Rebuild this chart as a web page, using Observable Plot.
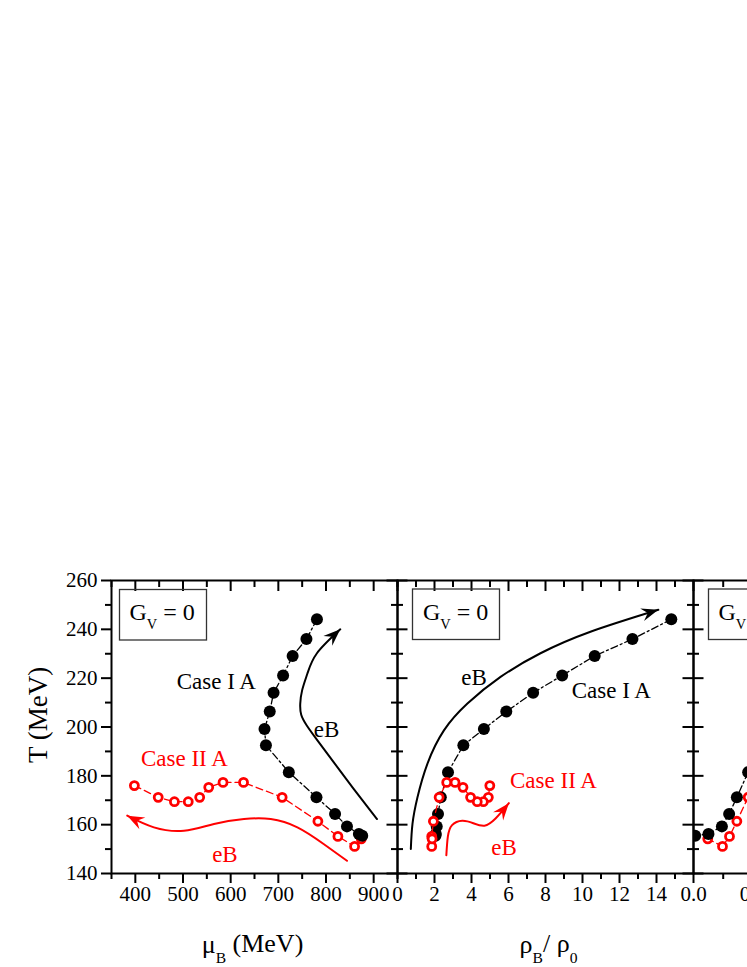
<!DOCTYPE html>
<html>
<head>
<meta charset="utf-8">
<script src="https://cdn.jsdelivr.net/npm/d3@7"></script>
<script src="https://cdn.jsdelivr.net/npm/@observablehq/plot@0.6"></script>
<style>
  html, body { margin: 0; padding: 0; background: #fff; overflow: hidden; }
  #fig { position: relative; width: 747px; height: 967px; overflow: hidden; background: #fff; }
  #fig svg { position: absolute; overflow: visible; background: none; }
</style>
</head>
<body>
<div id="fig"></div>
<script>
// ---------------- data ----------------
// Case I A (black filled dots)
const T_caseI   = [244.1, 236.0, 229.1, 221.1, 214.0, 206.3, 199.2, 192.5, 181.5, 171.2, 164.4, 159.3, 156.2, 155.5];
const muB_caseI = [781, 759, 730, 710, 690, 682, 671, 674, 722, 780, 819, 844, 869, 876];
const rho_caseI = [14.8, 12.7, 10.66, 8.9, 7.33, 5.88, 4.67, 3.56, 2.73, 2.34, 2.19, 2.12, 2.07, 2.05];
// Case II A (red open circles)
const T_caseII   = [176.0, 171.2, 169.4, 169.4, 171.2, 175.3, 177.3, 177.3, 171.2, 161.4, 155.2, 151.1, 154.2];
const muB_caseII = [398, 448, 482, 511, 535, 554, 584, 627, 708, 783, 825, 860, 874];
const rho_caseII = [4.99, 4.91, 4.64, 4.31, 3.95, 3.54, 3.11, 2.66, 2.25, 1.94, 1.85, 1.85, 1.87];
// third panel (only the part that is visible)
const T_caseI_p3  = [181.5, 171.2, 164.4, 159.3, 156.2, 155.5];
const x_caseI_p3  = [0.46, 0.365, 0.30, 0.239, 0.126, 0.014];
const T_caseII_p3 = [171.2, 161.4, 155.2, 151.1, 154.2];
const x_caseII_p3 = [0.46, 0.365, 0.303, 0.244, 0.12];

// eB arrows (annotation curves), start -> tip
const eB1_I_mu  = [907, 858, 816, 782, 760, 748, 746, 750, 761, 781, 830];
const eB1_I_T   = [162.3, 174.7, 185.6, 194.5, 200.5, 205.0, 209.6, 215.1, 221.9, 230.2, 240.0];
const eB1_II_mu = [844, 795, 740, 684, 628, 565, 502, 439, 383];
const eB1_II_T  = [145.2, 152.1, 158.9, 162.3, 162.3, 160.3, 157.5, 158.9, 163.7];
const eB2_I_rho  = [0.72, 0.81, 1.08, 1.62, 2.51, 3.78, 5.57, 7.73, 10.43, 14.1];
const eB2_I_T    = [150.0, 160.3, 171.2, 185.0, 198.6, 209.6, 220.5, 230.2, 239.0, 248.0];
const eB2_II_rho = [2.64, 2.72, 2.95, 3.5, 4.1, 4.7, 5.3, 6.02];
const eB2_II_T   = [147.5, 155.0, 159.8, 161.6, 160.6, 159.6, 162.5, 168.8];

// text annotations
const notes1_text   = ["Case I A", "eB", "Case II A", "eB"];
const notes1_series = ["I", "I", "II", "II"];
const notes1_mu     = [570, 801, 503, 588];
const notes1_T      = [218.4, 199, 187.1, 147.7];
const notes2_text   = ["eB", "Case I A", "Case II A", "eB"];
const notes2_series = ["I", "I", "II", "II"];
const notes2_rho    = [4.14, 11.56, 8.43, 5.76];
const notes2_T      = [220.4, 215, 178, 150.7];

// ticks and labels
const yTicks   = [140, 160, 180, 200, 220, 240, 260];
const yMinor   = [150, 170, 190, 210, 230, 250];
const muTicks  = [400, 500, 600, 700, 800, 900];
const muMinor  = [350, 450, 550, 650, 750, 850, 950];
const rhoTicks = [0, 2, 4, 6, 8, 10, 12, 14];
const rhoMinor = [1, 3, 5, 7, 9, 11, 13, 15];
const p3Ticks  = [0, 0.5, 1.0, 1.5, 2.0];
const p3Minor  = [0.25, 0.75, 1.25, 1.75, 2.25];
const gvLabels = ["G_{V} = 0", "G_{V} = 0", "G_{V}"];
const xTitles  = ["μ_{B} (MeV)", "ρ_{B}/ ρ_{0}"];
const yTitle   = "T (MeV)";

// ---------------- drawing ----------------
const FONT = "'Liberation Serif','Times New Roman',Times,serif";
const RED = "#ff0000";
const BLACK = "#000000";
const colorOf = {I: BLACK, II: RED};
const FRAME_TOP = 580, FRAME_BOTTOM = 873;
const FRAME_H = FRAME_BOTTOM - FRAME_TOP;
const MT = 10, MB = 967 - FRAME_BOTTOM;
const H = MT + FRAME_H + MB;
const blank = () => "";

function stealth(color) {
  const m = d3.select(document.createElementNS("http://www.w3.org/2000/svg", "marker"))
    .attr("viewBox", "-17 -8 18 16")
    .attr("markerWidth", 18).attr("markerHeight", 16)
    .attr("markerUnits", "userSpaceOnUse")
    .attr("refX", 0).attr("refY", 0)
    .attr("orient", "auto")
    .attr("overflow", "visible");
  m.append("path").attr("d", "M0,0L-17,-6.5L-11,0L-17,6.5Z").attr("fill", color).attr("stroke", "none");
  return m.node();
}

function axes(xTicks, xMinor, xFormat, first) {
  const c = {color: BLACK, strokeWidth: 2, label: null};
  const m = [
    Plot.axisX({...c, anchor: "bottom", ticks: xTicks, tickSize: 10, tickPadding: 3, tickFormat: xFormat}),
    Plot.axisX({...c, anchor: "bottom", ticks: xMinor, tickSize: 6, tickFormat: blank}),
    Plot.axisX({...c, anchor: "top", ticks: xTicks, tickSize: 10, insetTop: 10, tickFormat: blank}),
    Plot.axisX({...c, anchor: "top", ticks: xMinor, tickSize: 6, insetTop: 6, tickFormat: blank})
  ];
  if (first) {
    m.push(Plot.axisY({...c, anchor: "left", ticks: yTicks, tickSize: 10, tickPadding: 4}));
    m.push(Plot.axisY({...c, anchor: "left", ticks: yMinor, tickSize: 6, tickFormat: blank}));
  } else {
    m.push(Plot.axisY({...c, anchor: "left", ticks: yTicks, tickSize: 21, insetLeft: 10.5, tickFormat: blank}));
    m.push(Plot.axisY({...c, anchor: "left", ticks: yMinor, tickSize: 12, insetLeft: 6, tickFormat: blank}));
  }
  return m;
}

const idx = (a) => a.map((_, i) => i);
const seriesLine = (xs, ys, color, dash) =>
  Plot.line(idx(xs), {x: i => xs[i], y: i => ys[i], stroke: color, strokeWidth: 1.3, strokeDasharray: dash});
const blackDots = (xs, ys, clip) =>
  Plot.dot(idx(xs), {x: i => xs[i], y: i => ys[i], r: 6, fill: BLACK, stroke: "none", clip});
const redDots = (xs, ys, clip) =>
  Plot.dot(idx(xs), {x: i => xs[i], y: i => ys[i], r: 4, fill: "#fff", stroke: RED, strokeWidth: 2.8, clip});
const arrow = (xs, ys, color, marker) =>
  Plot.line(idx(xs), {x: i => xs[i], y: i => ys[i], stroke: color, strokeWidth: 2, curve: "natural", markerEnd: marker});
function notes(texts, series, xs, ys) {
  return ["I", "II"].map(s =>
    Plot.text(idx(texts).filter(i => series[i] === s),
      {x: i => xs[i], y: i => ys[i], text: i => texts[i], fill: colorOf[s], fontSize: 23}));
}
function gvBox(label, w, insetLeft, insetTop, dx) {
  const boxW = 87, boxH = 50.5;
  return [
    Plot.frame({stroke: "#333", strokeWidth: 1.3, insetLeft, insetTop,
      insetRight: w - insetLeft - boxW, insetBottom: FRAME_H - insetTop - boxH}),
    Plot.text([label], {frameAnchor: "top-left", dx, dy: 22, lineAnchor: "top", textAnchor: "start",
      fontSize: 24, fill: BLACK, text: d => d})
  ];
}

function subscriptify(svg) {
  d3.select(svg).selectAll("text").each(function () {
    const s = this.textContent;
    if (!s.includes("_{")) return;
    const parts = s.split(/_\{([^}]*)\}/);
    this.textContent = "";
    let shifted = false;
    parts.forEach((p, i) => {
      if (p === "") return;
      const t = d3.select(this).append("tspan").text(p);
      if (i % 2 === 1) {
        t.attr("font-size", "0.6em").attr("dy", shifted ? null : "0.68em");
        shifted = true;
      } else if (shifted) {
        t.attr("dy", "-0.41em");
        shifted = false;
      }
    });
  });
}

// place the rotated y-axis title: shift its group (screen space) from the frame's left-middle
function placeYTitle(svg, text, shiftX, shiftY) {
  d3.select(svg).selectAll("text").filter(function () { return this.textContent === text; })
    .each(function () {
      d3.select(this).attr("dx", null).attr("dy", null);
      d3.select(this.parentNode).attr("transform", `translate(${shiftX},${shiftY})`);
    });
}

function build(marker) {
  const base = {
    height: H, marginTop: MT, marginBottom: MB,
    y: {domain: [140, 260]},
    style: {fontFamily: FONT, fontSize: "21px", background: "none", overflow: "visible", color: BLACK}
  };
  // ---- panel 1 : mu_B ----
  const w1 = 286;
  const p1 = Plot.plot({
    ...base, width: 111 + w1, marginLeft: 111, marginRight: 0,
    x: {domain: [350, 950]},
    marks: [
      ...axes(muTicks, muMinor, d => d, true),
      Plot.frame({stroke: BLACK, strokeWidth: 2}),
      ...gvBox(gvLabels[0], w1, 8, 9, 18),
      seriesLine(muB_caseII, T_caseII, RED, "7,4"),
      redDots(muB_caseII, T_caseII),
      seriesLine(muB_caseI, T_caseI, BLACK, "7,3,2,3"),
      blackDots(muB_caseI, T_caseI),
      arrow(eB1_I_mu, eB1_I_T, BLACK, marker),
      arrow(eB1_II_mu, eB1_II_T, RED, marker),
      ...notes(notes1_text, notes1_series, notes1_mu, notes1_T),
      Plot.text([yTitle], {frameAnchor: "left", textAnchor: "middle", lineAnchor: "middle", rotate: -90,
        fontSize: 27, text: d => d}),
      Plot.text([xTitles[0]], {frameAnchor: "bottom", dx: -2, dy: 79, fontSize: 26, text: d => d})
    ]
  });
  // ---- panel 2 : rho_B / rho_0 ----
  const w2 = 296;
  const p2 = Plot.plot({
    ...base, width: w2, marginLeft: 0, marginRight: 0,
    x: {domain: [0, 16]},
    marks: [
      ...axes(rhoTicks, rhoMinor, d => d, false),
      Plot.frame({stroke: BLACK, strokeWidth: 2}),
      ...gvBox(gvLabels[1], w2, 15, 8.5, 25.5),
      seriesLine(rho_caseI, T_caseI, BLACK, "7,3,2,3"),
      blackDots(rho_caseI, T_caseI),
      seriesLine(rho_caseII, T_caseII, RED, "7,4"),
      redDots(rho_caseII, T_caseII),
      arrow(eB2_I_rho, eB2_I_T, BLACK, marker),
      arrow(eB2_II_rho, eB2_II_T, RED, marker),
      ...notes(notes2_text, notes2_series, notes2_rho, notes2_T),
      Plot.text([xTitles[1]], {frameAnchor: "bottom", dx: 3, dy: 79, fontSize: 26, text: d => d})
    ]
  });
  // ---- panel 3 (cut off by the page edge) ----
  const w3 = 297;
  const p3 = Plot.plot({
    ...base, width: w3, marginLeft: 0, marginRight: 0,
    x: {domain: [0, 2.5]},
    marks: [
      ...axes(p3Ticks, p3Minor, d3.format(".1f"), false),
      Plot.frame({stroke: BLACK, strokeWidth: 2}),
      ...gvBox(gvLabels[2], w3, 15, 8.5, 25),
      seriesLine(x_caseII_p3, T_caseII_p3, RED, "7,4"),
      redDots(x_caseII_p3, T_caseII_p3, true),
      seriesLine(x_caseI_p3, T_caseI_p3, BLACK, "7,3,2,3"),
      blackDots(x_caseI_p3, T_caseI_p3, true)
    ]
  });
  return [[p1, 0], [p2, 397], [p3, 693]];
}

let panels;
try { panels = build(stealth); } catch (e) { panels = build("arrow"); }
const fig = document.getElementById("fig");
for (const [svg, left] of panels) {
  svg.style.left = left + "px";
  svg.style.top = (FRAME_TOP - MT) + "px";
  fig.appendChild(svg);
  subscriptify(svg);
}
placeYTitle(panels[0][0], yTitle, -73, -11.5);
</script>
</body>
</html>
